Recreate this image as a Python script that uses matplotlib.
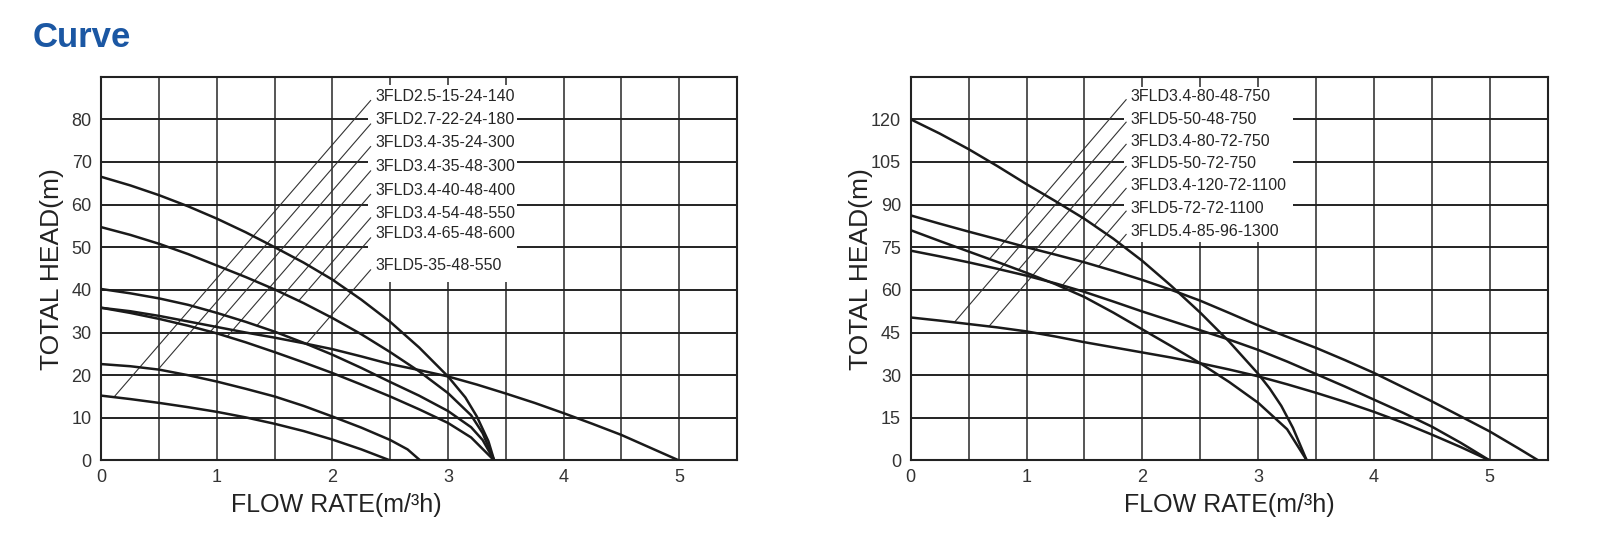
import numpy as np
import matplotlib.pyplot as plt
from matplotlib.patches import Rectangle

plt.rcParams['font.family'] = ['Liberation Sans', 'DejaVu Sans']

# ---- left chart: flow rate (m3/h) vs head (m) ----
q_65 = [0, 0.25, 0.5, 0.75, 1.0, 1.25, 1.5, 1.75, 2.0, 2.25, 2.5, 2.75, 3.0, 3.15, 3.25, 3.35, 3.4]
h_65 = [66.5, 64.5, 62.2, 59.6, 56.7, 53.5, 50.0, 46.4, 42.4, 37.7, 32.5, 26.5, 19.7, 14.8, 10.3, 4.5, 0]
q_54 = [0, 0.25, 0.5, 0.75, 1.0, 1.25, 1.5, 1.75, 2.0, 2.25, 2.5, 2.75, 3.0, 3.2, 3.3, 3.4]
h_54 = [54.7, 52.9, 50.8, 48.4, 45.7, 43.0, 40.1, 36.9, 33.4, 29.6, 25.4, 20.9, 15.8, 10.6, 6.4, 0]
q_40 = [0, 0.25, 0.5, 0.75, 1.0, 1.25, 1.5, 1.75, 2.0, 2.25, 2.5, 2.75, 3.0, 3.2, 3.3, 3.4]
h_40 = [40.2, 39.2, 38.0, 36.5, 34.6, 32.5, 30.2, 27.6, 24.8, 21.7, 18.4, 15.2, 11.6, 7.8, 4.8, 0]
q_35 = [0, 0.25, 0.5, 0.75, 1.0, 1.25, 1.5, 1.75, 2.0, 2.25, 2.5, 2.75, 3.0, 3.2, 3.4]
h_35 = [35.8, 34.6, 33.2, 31.6, 29.8, 27.7, 25.4, 23.0, 20.5, 17.8, 15.0, 12.0, 8.8, 5.4, 0]
q_5_35 = [0, 0.25, 0.5, 0.75, 1.0, 1.25, 1.5, 1.75, 2.0, 2.25, 2.5, 2.75, 3.0, 3.25, 3.5,
          3.75, 4.0, 4.25, 4.5, 4.75, 5.0]
h_5_35 = [35.8, 35.0, 33.9, 32.6, 31.3, 30.0, 28.8, 27.5, 26.1, 24.4, 22.6, 21.2, 19.7, 17.8, 15.7,
          13.5, 11.1, 8.6, 6.0, 3.0, 0]
q_22 = [0, 0.25, 0.5, 0.75, 1.0, 1.25, 1.5, 1.75, 2.0, 2.25, 2.5, 2.65, 2.76]
h_22 = [22.6, 22.1, 21.3, 20.0, 18.5, 16.8, 15.0, 12.8, 10.3, 7.7, 4.8, 2.6, 0]
q_15 = [0, 0.25, 0.5, 0.75, 1.0, 1.25, 1.5, 1.75, 2.0, 2.25, 2.5]
h_15 = [15.2, 14.4, 13.5, 12.5, 11.4, 10.1, 8.6, 6.9, 4.9, 2.6, 0]

left_curves = [(q_15, h_15), (q_22, h_22), (q_35, h_35), (q_40, h_40),
               (q_54, h_54), (q_65, h_65), (q_5_35, h_5_35)]
left_labels = ['3FLD2.5-15-24-140', '3FLD2.7-22-24-180', '3FLD3.4-35-24-300',
               '3FLD3.4-35-48-300', '3FLD3.4-40-48-400', '3FLD3.4-54-48-550',
               '3FLD3.4-65-48-600', '3FLD5-35-48-550']
left_targets = [0, 1, 2, 2, 3, 4, 5, 6]   # curve each label points at

# ---- right chart ----
q_120 = [0, 0.25, 0.5, 0.75, 1.0, 1.25, 1.5, 1.75, 2.0, 2.25, 2.5, 2.75, 3.0, 3.1, 3.2, 3.3, 3.42]
h_120 = [120, 115, 109.5, 103.5, 97.2, 91.2, 85, 78, 70.2, 61.4, 52, 41.8, 30.5, 25.3, 19.2, 11.5, 0]
q_80 = [0, 0.25, 0.5, 0.75, 1.0, 1.25, 1.5, 1.75, 2.0, 2.25, 2.5, 2.75, 3.0, 3.25, 3.42]
h_80 = [81, 77.2, 73.5, 69.8, 66, 62, 57.5, 52, 46.1, 40.2, 34.2, 27.6, 20.3, 11.0, 0]
q_72 = [0, 0.25, 0.5, 0.75, 1.0, 1.25, 1.5, 1.75, 2.0, 2.25, 2.5, 2.75, 3.0, 3.25, 3.5,
        3.75, 4.0, 4.25, 4.5, 4.75, 5.0]
h_72 = [73.8, 71.8, 69.7, 67.4, 65, 62.3, 59.3, 55.9, 52.4, 49.1, 45.8, 42.5, 38.9, 34.8, 30.4,
        26, 21.4, 16.8, 11.9, 6.2, 0]
q_85 = [0, 0.25, 0.5, 0.75, 1.0, 1.25, 1.5, 1.75, 2.0, 2.25, 2.5, 2.75, 3.0, 3.25, 3.5,
        3.75, 4.0, 4.25, 4.5, 4.75, 5.0, 5.25, 5.42]
h_85 = [86.2, 83.3, 80.5, 77.8, 75, 72.4, 69.7, 66.7, 63.5, 60, 56.2, 51.9, 47.5, 43.5, 39.6,
        35.3, 30.8, 25.8, 20.8, 15.5, 10.2, 4.2, 0]
q_50 = [0, 0.25, 0.5, 0.75, 1.0, 1.25, 1.5, 1.75, 2.0, 2.25, 2.5, 2.75, 3.0, 3.25, 3.5,
        3.75, 4.0, 4.25, 4.5, 4.75, 5.0]
h_50 = [50.3, 49.2, 48, 46.8, 45.4, 43.6, 41.6, 39.8, 38, 36.2, 34.2, 32, 29.6, 26.8, 23.8,
        20.6, 17.1, 13.3, 9.1, 4.7, 0]

right_curves = [(q_120, h_120), (q_85, h_85), (q_80, h_80), (q_72, h_72), (q_50, h_50)]
right_labels = ['3FLD3.4-80-48-750', '3FLD5-50-48-750', '3FLD3.4-80-72-750',
                '3FLD5-50-72-750', '3FLD3.4-120-72-1100', '3FLD5-72-72-1100',
                '3FLD5.4-85-96-1300']
right_targets = [2, 4, 2, 4, 0, 3, 1]

# layout of the label block (data units)
left_label_y = [85.4, 79.9, 74.6, 68.9, 63.4, 57.9, 53.2, 45.7]
right_label_y = [127.9, 120.0, 112.2, 104.4, 96.7, 88.7, 80.5]


def leader_end(x0, y0, k, q, h):
    # walk left along a leader of slope k until it meets the curve
    xs = np.linspace(x0, 0, 3000)
    diff = (y0 - k * (x0 - xs)) - np.interp(xs, q, h)
    i = np.argmax(diff <= 0)
    return xs[i], np.interp(xs[i], q, h)


def panel(ax, curves, labels, targets, label_y, ymax, ystep, box, text_x, k, xlab_x):
    ax.set_xlim(0, 5.5)
    ax.set_ylim(0, ymax)
    ax.set_xticks(range(6))
    ax.set_xticks(np.arange(0.5, 5.5, 1.0), minor=True)
    ax.set_yticks(np.arange(0, ymax, ystep))
    ax.tick_params(which='both', length=0, labelsize=13, labelcolor='#333333')
    ax.tick_params(axis='y', pad=7)
    ax.tick_params(axis='x', pad=6)
    ax.set_axisbelow(True)
    ax.grid(axis='y', color='#222222', lw=1.4)
    ax.grid(axis='x', which='both', color='#555555', lw=1.4)
    for s in ax.spines.values():
        s.set_color('#222222')
        s.set_linewidth(1.5)

    x0, y0, x1, y1 = box
    ax.add_patch(Rectangle((x0, y0), x1 - x0, y1 - y0, facecolor='white',
                           edgecolor='none', zorder=1))

    for q, h in curves:
        ax.plot(q, h, color='#1a1a1a', lw=1.8, zorder=3, solid_joinstyle='round')

    for lab, t, ly in zip(labels, targets, label_y):
        q, h = curves[t]
        top = (x0 + 0.02, ly - 1.0)
        ex, ey = leader_end(top[0], top[1], k, q, h)
        ax.plot([top[0], ex], [top[1], ey], color='#333333', lw=0.8, zorder=2)
        ax.text(text_x, ly, lab, fontsize=11.5, color='#262626', va='center', ha='left', zorder=4)

    ax.set_xlabel('FLOW RATE(m/³h)', fontsize=18, color='#222222')
    ax.set_ylabel('TOTAL HEAD(m)', fontsize=19, color='#222222')
    ax.xaxis.set_label_coords(xlab_x, -0.085)
    ax.yaxis.set_label_coords(-0.059, 0.5)


fig = plt.figure(figsize=(16, 5.52), dpi=100)
ax1 = fig.add_axes([0.0634, 0.1658, 0.3971, 0.6953])
ax2 = fig.add_axes([0.5692, 0.1658, 0.3981, 0.6953])

panel(ax1, left_curves, left_labels, left_targets, left_label_y, 90, 10,
      (2.31, 41.8, 3.60, 88.0), 2.37, 31.3, 0.37)
panel(ax2, right_curves, right_labels, right_targets, right_label_y, 135, 15,
      (1.84, 76.7, 3.30, 131.3), 1.90, 47.5, 0.5)

fig.text(0.0206, 1 - 37.5 / 552, 'Curve', fontsize=25, fontweight='bold',
         color='#1b57a3', va='center', ha='left')

fig.savefig('out.png', dpi=100)
